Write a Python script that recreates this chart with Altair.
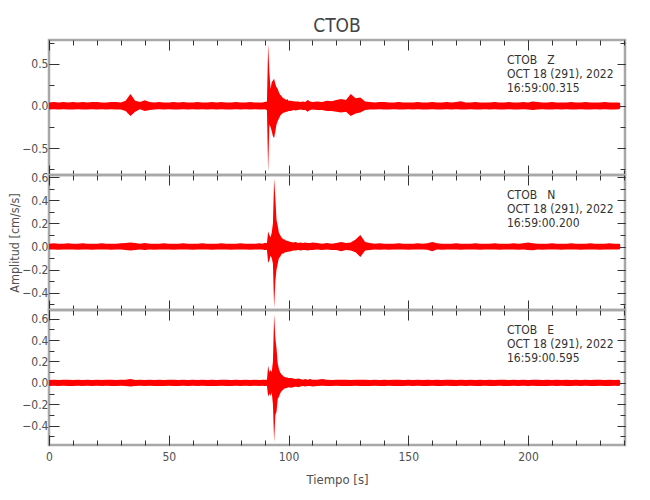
import altair as alt
import pandas as pd

# ---------------- data ----------------
STATION = "CTOB"
COMPONENTS = ["Z", "N", "E"]
DATE_LINE = "OCT 18 (291), 2022"
START_TIMES = ["16:59:00.315", "16:59:00.200", "16:59:00.595"]

TIME = [
    0, 2, 4, 6, 8, 10, 12, 14, 16, 18,
    20, 22, 24, 26, 28, 30, 32, 34, 36, 38,
    40, 42, 44, 46, 48, 50, 52, 54, 56, 58,
    60, 62, 64, 66, 68, 70, 72, 74, 76, 78,
    80, 82, 84, 86, 88, 89, 90, 91, 91.5, 92,
    92.5, 93, 93.5, 94, 94.5, 95, 95.5, 96, 96.5, 97,
    97.5, 98, 98.5, 99, 99.5, 100, 101, 102, 103, 104,
    105, 106, 107, 108, 109, 110, 112, 114, 116, 118,
    120, 122, 124, 126, 128, 130, 132, 134, 136, 138,
    140, 142, 144, 146, 148, 150, 152, 154, 156, 158,
    160, 162, 164, 166, 168, 170, 172, 174, 176, 178,
    180, 182, 184, 186, 188, 190, 192, 194, 196, 198,
    200, 202, 204, 206, 208, 210, 212, 214, 216, 218,
    220, 222, 224, 226, 228, 230, 232, 234, 236, 238,
    238.5,
]

Z_UP = [
    0.040, 0.045, 0.040, 0.045, 0.040, 0.045, 0.040, 0.045, 0.040, 0.045,
    0.045, 0.040, 0.040, 0.045, 0.045, 0.040, 0.060, 0.140, 0.060, 0.045,
    0.065, 0.045, 0.040, 0.045, 0.040, 0.040, 0.045, 0.040, 0.045, 0.040,
    0.040, 0.045, 0.040, 0.040, 0.045, 0.040, 0.045, 0.040, 0.040, 0.045,
    0.040, 0.040, 0.045, 0.040, 0.040, 0.040, 0.045, 0.050, 0.730, 0.400,
    0.200, 0.280, 0.300, 0.320, 0.260, 0.220, 0.200, 0.160, 0.130, 0.120,
    0.100, 0.090, 0.080, 0.070, 0.080, 0.060, 0.060, 0.055, 0.050, 0.050,
    0.045, 0.050, 0.045, 0.070, 0.050, 0.045, 0.050, 0.045, 0.060, 0.055,
    0.070, 0.080, 0.070, 0.140, 0.090, 0.100, 0.050, 0.045, 0.040, 0.045,
    0.045, 0.040, 0.040, 0.045, 0.040, 0.040, 0.040, 0.045, 0.040, 0.040,
    0.045, 0.040, 0.040, 0.045, 0.040, 0.045, 0.055, 0.040, 0.040, 0.045,
    0.040, 0.040, 0.040, 0.045, 0.040, 0.040, 0.045, 0.040, 0.040, 0.045,
    0.040, 0.050, 0.045, 0.040, 0.040, 0.045, 0.040, 0.040, 0.040, 0.045,
    0.040, 0.040, 0.045, 0.040, 0.040, 0.040, 0.045, 0.040, 0.040, 0.040,
    0.030,
]
Z_LO = [
    -0.045, -0.040, -0.045, -0.040, -0.045, -0.045, -0.040, -0.045, -0.045, -0.040,
    -0.045, -0.040, -0.045, -0.040, -0.045, -0.045, -0.060, -0.120, -0.070, -0.040,
    -0.060, -0.050, -0.045, -0.040, -0.045, -0.040, -0.045, -0.045, -0.040, -0.045,
    -0.040, -0.045, -0.040, -0.045, -0.040, -0.045, -0.040, -0.045, -0.045, -0.040,
    -0.045, -0.040, -0.045, -0.040, -0.045, -0.045, -0.040, -0.050, -0.780, -0.220,
    -0.250, -0.300, -0.360, -0.380, -0.300, -0.220, -0.180, -0.150, -0.120, -0.100,
    -0.090, -0.080, -0.080, -0.070, -0.070, -0.060, -0.060, -0.050, -0.055, -0.050,
    -0.045, -0.050, -0.050, -0.070, -0.050, -0.045, -0.050, -0.050, -0.060, -0.060,
    -0.070, -0.080, -0.070, -0.120, -0.090, -0.080, -0.050, -0.045, -0.045, -0.040,
    -0.045, -0.045, -0.040, -0.045, -0.045, -0.040, -0.045, -0.040, -0.045, -0.045,
    -0.040, -0.045, -0.045, -0.040, -0.045, -0.040, -0.045, -0.045, -0.040, -0.045,
    -0.045, -0.040, -0.045, -0.040, -0.045, -0.045, -0.040, -0.045, -0.045, -0.040,
    -0.045, -0.050, -0.045, -0.040, -0.045, -0.045, -0.040, -0.045, -0.040, -0.045,
    -0.045, -0.040, -0.045, -0.045, -0.040, -0.045, -0.040, -0.045, -0.045, -0.040,
    -0.030,
]

N_UP = [
    0.025, 0.028, 0.025, 0.025, 0.028, 0.025, 0.025, 0.028, 0.025, 0.025,
    0.025, 0.028, 0.025, 0.025, 0.025, 0.028, 0.030, 0.035, 0.030, 0.025,
    0.030, 0.025, 0.025, 0.025, 0.028, 0.025, 0.025, 0.025, 0.028, 0.025,
    0.025, 0.025, 0.028, 0.025, 0.025, 0.025, 0.028, 0.025, 0.025, 0.025,
    0.028, 0.025, 0.025, 0.025, 0.028, 0.025, 0.030, 0.030, 0.130, 0.100,
    0.080, 0.120, 0.200, 0.590, 0.420, 0.230, 0.180, 0.120, 0.100, 0.080,
    0.070, 0.060, 0.060, 0.050, 0.050, 0.045, 0.040, 0.035, 0.040, 0.030,
    0.035, 0.030, 0.035, 0.030, 0.030, 0.035, 0.030, 0.025, 0.030, 0.025,
    0.030, 0.040, 0.030, 0.035, 0.060, 0.100, 0.040, 0.030, 0.025, 0.028,
    0.025, 0.025, 0.025, 0.028, 0.025, 0.025, 0.025, 0.028, 0.025, 0.028,
    0.040, 0.028, 0.025, 0.025, 0.025, 0.028, 0.025, 0.025, 0.025, 0.028,
    0.025, 0.025, 0.025, 0.028, 0.025, 0.025, 0.025, 0.028, 0.025, 0.028,
    0.035, 0.028, 0.025, 0.025, 0.025, 0.028, 0.025, 0.025, 0.025, 0.028,
    0.025, 0.025, 0.025, 0.028, 0.025, 0.025, 0.025, 0.028, 0.025, 0.025,
    0.020,
]
N_LO = [
    -0.025, -0.025, -0.028, -0.025, -0.025, -0.025, -0.028, -0.025, -0.025, -0.028,
    -0.025, -0.025, -0.025, -0.028, -0.025, -0.025, -0.030, -0.035, -0.030, -0.025,
    -0.030, -0.025, -0.028, -0.025, -0.025, -0.025, -0.028, -0.025, -0.025, -0.025,
    -0.028, -0.025, -0.025, -0.025, -0.028, -0.025, -0.025, -0.025, -0.028, -0.025,
    -0.025, -0.025, -0.028, -0.025, -0.025, -0.025, -0.030, -0.030, -0.140, -0.120,
    -0.080, -0.100, -0.150, -0.530, -0.300, -0.200, -0.150, -0.100, -0.090, -0.070,
    -0.060, -0.060, -0.050, -0.050, -0.045, -0.045, -0.040, -0.035, -0.035, -0.030,
    -0.035, -0.030, -0.030, -0.035, -0.030, -0.030, -0.025, -0.030, -0.025, -0.030,
    -0.030, -0.040, -0.030, -0.035, -0.050, -0.090, -0.035, -0.030, -0.025, -0.028,
    -0.025, -0.028, -0.025, -0.025, -0.025, -0.028, -0.025, -0.025, -0.025, -0.028,
    -0.040, -0.025, -0.028, -0.025, -0.025, -0.025, -0.028, -0.025, -0.025, -0.025,
    -0.028, -0.025, -0.025, -0.025, -0.028, -0.025, -0.025, -0.025, -0.028, -0.025,
    -0.030, -0.033, -0.025, -0.028, -0.025, -0.025, -0.025, -0.028, -0.025, -0.025,
    -0.025, -0.028, -0.025, -0.025, -0.025, -0.028, -0.025, -0.025, -0.025, -0.025,
    -0.020,
]

E_UP = [
    0.027, 0.030, 0.027, 0.030, 0.030, 0.027, 0.030, 0.027, 0.030, 0.027,
    0.030, 0.027, 0.030, 0.030, 0.027, 0.030, 0.030, 0.035, 0.027, 0.030,
    0.027, 0.030, 0.027, 0.030, 0.027, 0.030, 0.030, 0.027, 0.030, 0.027,
    0.030, 0.027, 0.030, 0.027, 0.030, 0.027, 0.030, 0.030, 0.027, 0.030,
    0.027, 0.030, 0.027, 0.030, 0.027, 0.030, 0.030, 0.030, 0.160, 0.100,
    0.120, 0.100, 0.200, 0.640, 0.420, 0.320, 0.180, 0.130, 0.100, 0.080,
    0.070, 0.060, 0.055, 0.050, 0.050, 0.045, 0.045, 0.040, 0.035, 0.040,
    0.035, 0.030, 0.035, 0.030, 0.035, 0.030, 0.030, 0.035, 0.030, 0.027,
    0.030, 0.030, 0.030, 0.027, 0.030, 0.030, 0.030, 0.027, 0.030, 0.027,
    0.030, 0.027, 0.030, 0.030, 0.027, 0.030, 0.027, 0.030, 0.027, 0.030,
    0.027, 0.030, 0.027, 0.030, 0.030, 0.027, 0.030, 0.027, 0.030, 0.027,
    0.030, 0.027, 0.030, 0.027, 0.030, 0.030, 0.027, 0.030, 0.027, 0.030,
    0.027, 0.030, 0.030, 0.027, 0.030, 0.027, 0.030, 0.027, 0.030, 0.027,
    0.030, 0.027, 0.030, 0.027, 0.030, 0.030, 0.027, 0.030, 0.027, 0.030,
    0.020,
]
E_LO = [
    -0.030, -0.027, -0.030, -0.027, -0.030, -0.030, -0.027, -0.030, -0.027, -0.030,
    -0.027, -0.030, -0.027, -0.030, -0.030, -0.027, -0.030, -0.035, -0.030, -0.027,
    -0.030, -0.027, -0.030, -0.030, -0.030, -0.027, -0.030, -0.030, -0.027, -0.030,
    -0.027, -0.030, -0.027, -0.030, -0.030, -0.030, -0.027, -0.030, -0.030, -0.027,
    -0.030, -0.027, -0.030, -0.027, -0.030, -0.027, -0.030, -0.030, -0.130, -0.100,
    -0.120, -0.090, -0.200, -0.550, -0.300, -0.270, -0.150, -0.130, -0.100, -0.080,
    -0.070, -0.060, -0.050, -0.050, -0.045, -0.040, -0.045, -0.040, -0.035, -0.040,
    -0.035, -0.030, -0.035, -0.030, -0.030, -0.035, -0.030, -0.027, -0.030, -0.030,
    -0.027, -0.030, -0.030, -0.030, -0.027, -0.030, -0.030, -0.030, -0.027, -0.030,
    -0.030, -0.027, -0.030, -0.030, -0.030, -0.027, -0.030, -0.027, -0.030, -0.030,
    -0.027, -0.030, -0.030, -0.027, -0.030, -0.030, -0.027, -0.030, -0.027, -0.030,
    -0.030, -0.027, -0.030, -0.030, -0.027, -0.030, -0.030, -0.027, -0.030, -0.027,
    -0.030, -0.027, -0.030, -0.030, -0.030, -0.027, -0.030, -0.027, -0.030, -0.030,
    -0.027, -0.030, -0.027, -0.030, -0.030, -0.027, -0.030, -0.030, -0.027, -0.030,
    -0.020,
]

UPPER = [Z_UP, N_UP, E_UP]
LOWER = [Z_LO, N_LO, E_LO]

X_DOMAIN = [0, 240.5]
X_MAJOR = [0, 50, 100, 150, 200]
X_MINOR = [0, 10, 20, 30, 40, 50, 60, 70, 80, 90, 100, 110, 120,
           130, 140, 150, 160, 170, 180, 190, 200, 210, 220, 230, 240]

Y_DOMAINS = [[-0.82, 0.78], [-0.55, 0.62], [-0.58, 0.68]]
Y_MAJOR = [
    [-0.5, 0.0, 0.5],
    [-0.4, -0.2, 0.0, 0.2, 0.4, 0.6],
    [-0.4, -0.2, 0.0, 0.2, 0.4, 0.6],
]
Y_MINOR = [
    [-0.75, -0.5, -0.25, 0.0, 0.25, 0.5, 0.75],
    [-0.5, -0.4, -0.3, -0.2, -0.1, 0.0, 0.1, 0.2, 0.3, 0.4, 0.5, 0.6],
    [-0.5, -0.4, -0.3, -0.2, -0.1, 0.0, 0.1, 0.2, 0.3, 0.4, 0.5, 0.6],
]
HEIGHTS = [135, 135, 135]

for lst in (Z_UP, Z_LO, N_UP, N_LO, E_UP, E_LO):
    assert len(lst) == len(TIME), len(lst)

# ---------------- styling ----------------
FONT = "Liberation Sans Narrow, DejaVu Sans Condensed, Roboto, sans-serif"
TICK = "#333333"
LABEL = "#505050"
TRACE = "#ff0000"
W = 576


def x_axis(orient, values, size, labels=False, title=None):
    kw = dict(orient=orient, values=values, tickSize=size, offset=-size,
              domain=False, grid=False, ticks=True, tickColor=TICK,
              tickWidth=1, labels=labels, title=title)
    if labels:
        kw.update(format="d", labelFont=FONT, labelFontSize=12,
                  labelColor=LABEL, labelPadding=6, labelFlush=False)
    if title:
        kw.update(titleFont=FONT, titleFontSize=13, titleColor=LABEL,
                  titleFontWeight="normal", titlePadding=11)
    return alt.Axis(**kw)


def y_axis(orient, values, size, labels=False, title=None):
    kw = dict(orient=orient, values=values, tickSize=size, offset=-size,
              domain=False, grid=False, ticks=True, tickColor=TICK,
              tickWidth=1, labels=labels, title=title)
    if labels:
        kw.update(format=".1f", labelFont=FONT, labelFontSize=12,
                  labelColor=LABEL, labelPadding=1, labelFlush=False)
    if title:
        kw.update(titleFont=FONT, titleFontSize=12.5, titleColor=LABEL,
                  titleFontWeight="normal", titlePadding=0)
    return alt.Axis(**kw)


panels = []
for i, comp in enumerate(COMPONENTS):
    df = pd.DataFrame({"t": TIME, "up": UPPER[i], "lo": LOWER[i]})
    xs = alt.Scale(domain=X_DOMAIN, nice=False, zero=False)
    ys = alt.Scale(domain=Y_DOMAINS[i], nice=False, zero=False)
    bottom = i == len(COMPONENTS) - 1
    ytitle = "Amplitud [cm/s/s]" if i == 1 else None
    xtitle = "Tiempo [s]" if bottom else None

    base = alt.Chart(df)
    trace = base.mark_area(color=TRACE, opacity=1, interpolate="linear").encode(
        x=alt.X("t:Q", scale=xs, axis=x_axis("bottom", X_MAJOR, 10, labels=bottom, title=xtitle)),
        y=alt.Y("up:Q", scale=ys, axis=y_axis("left", Y_MAJOR[i], 10, labels=True, title=ytitle)),
        y2="lo:Q",
    )
    l2 = base.mark_point(opacity=0, size=1).encode(
        x=alt.X("t:Q", scale=xs, axis=x_axis("bottom", X_MINOR, 5)),
        y=alt.Y("up:Q", scale=ys, axis=y_axis("left", Y_MINOR[i], 5)),
    )
    l3 = base.mark_point(opacity=0, size=1).encode(
        x=alt.X("t:Q", scale=xs, axis=x_axis("top", X_MAJOR, 10)),
        y=alt.Y("up:Q", scale=ys, axis=y_axis("right", Y_MAJOR[i], 8)),
    )
    l4 = base.mark_point(opacity=0, size=1).encode(
        x=alt.X("t:Q", scale=xs, axis=x_axis("top", X_MINOR, 5)),
        y=alt.Y("up:Q", scale=ys, axis=y_axis("right", Y_MINOR[i], 5)),
    )
    info = pd.DataFrame({"label": [STATION + "\u00a0\u00a0\u00a0" + comp + "\n" + DATE_LINE + "\n" + START_TIMES[i]]})
    txt = alt.Chart(info).mark_text(
        align="left", baseline="top", lineBreak="\n", lineHeight=14,
        font=FONT, fontSize=12, color="#333333",
    ).encode(x=alt.value(458), y=alt.value(15), text="label:N")

    panel = alt.layer(trace, l2, l3, l4, txt).resolve_axis(
        x="independent", y="independent"
    ).properties(width=W, height=HEIGHTS[i])
    if i == 0:
        panel = panel.properties(title=alt.TitleParams(
            STATION, font=FONT, fontSize=19, fontWeight="normal",
            color="#444444", anchor="middle", frame="group", offset=4))
    panels.append(panel)

chart = alt.vconcat(*panels, spacing=0).properties(
    bounds="flush",
    padding={"left": -1, "top": 7, "right": 5, "bottom": 5},
).configure_view(stroke="#a8a8a8", strokeWidth=2.5)

chart.save("out.html", embed_options={"renderer": "svg", "actions": False})
